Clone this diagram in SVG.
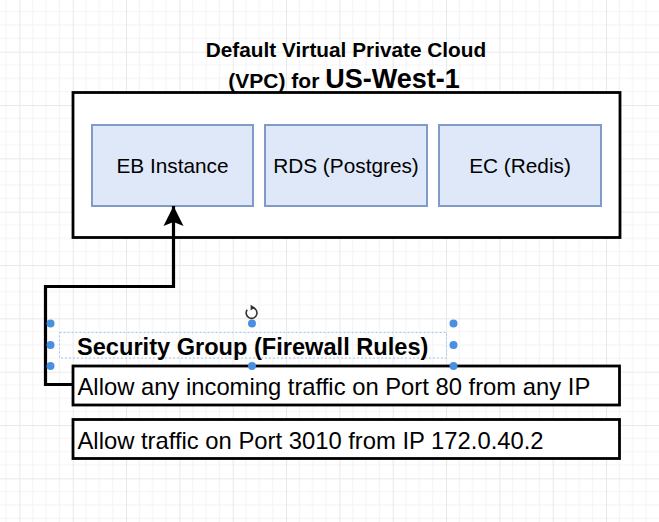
<svg xmlns="http://www.w3.org/2000/svg" width="659" height="522" viewBox="0 0 659 522">
  <defs>
    <pattern id="grid" patternUnits="userSpaceOnUse" x="19.33" y="-1.67" width="53.333" height="53.333">
      <rect x="0" y="0" width="53.333" height="53.333" fill="#ffffff"/>
      <path d="M13.333,0V53.333M26.667,0V53.333M40,0V53.333M0,13.333H53.333M0,26.667H53.333M0,40H53.333" stroke="#f4f4f4" stroke-width="1" fill="none"/>
      <path d="M0.5,0V53.333M0,0.5H53.333" stroke="#e9e9e9" stroke-width="1" fill="none"/>
    </pattern>
    <marker id="arrow" markerUnits="userSpaceOnUse" markerWidth="22" markerHeight="22" viewBox="0 0 22 22" refX="20" refY="11" orient="auto">
      <path d="M0,1 L20,11 L0,21 L4,11 Z" fill="#000"/>
    </marker>
    <style>
      .lbl { font-family: "Liberation Sans", Arial, Helvetica, sans-serif; fill: #000; }
      .bold { font-weight: bold; }
      .svc { fill: #dfe8f8; stroke: #7f9bc6; stroke-width: 2; }
      .frame { fill: #ffffff; stroke: #000; stroke-width: 2.8; }
      .handle { fill: #4a90e2; }
    </style>
  </defs>

  <rect x="0" y="0" width="659" height="522" fill="url(#grid)"/>

  <g id="title">
    <text class="lbl bold" x="346" y="56.5" font-size="20.8" text-anchor="middle">Default Virtual Private Cloud</text>
    <text class="lbl bold" x="344" y="88" text-anchor="middle"><tspan font-size="21">(VPC) for </tspan><tspan font-size="27">US-West-1</tspan></text>
  </g>

  <g id="vpc">
    <rect class="frame" x="73" y="92.5" width="547" height="145"/>
  </g>

  <g id="eb-instance">
    <rect class="svc" x="92" y="125" width="161" height="81"/>
    <text class="lbl" x="172.5" y="172.5" font-size="20.8" text-anchor="middle">EB Instance</text>
  </g>
  <g id="rds">
    <rect class="svc" x="265" y="125" width="162" height="81"/>
    <text class="lbl" x="346" y="172.5" font-size="20.8" text-anchor="middle">RDS (Postgres)</text>
  </g>
  <g id="ec">
    <rect class="svc" x="439" y="125" width="162" height="81"/>
    <text class="lbl" x="520" y="172.5" font-size="20.8" text-anchor="middle">EC (Redis)</text>
  </g>

  <g id="connectors">
    <path d="M73,384.5 H45.5 V286.5 H173.5 V206" fill="none" stroke="#000" stroke-width="3.2" stroke-linejoin="miter" marker-end="url(#arrow)"/>
  </g>

  <g id="security-group">
    <rect x="59.5" y="332.5" width="387" height="25.5" fill="none" stroke="#9ccaf2" stroke-width="1" stroke-dasharray="2 2"/>
    <text class="lbl bold" x="77" y="354.5" font-size="23.6">Security Group (Firewall Rules)</text>
  </g>

  <g id="rule-port-80">
    <rect class="frame" x="73" y="366" width="546.5" height="39"/>
    <text class="lbl" x="77.5" y="395" font-size="23.8">Allow any incoming traffic on Port 80 from any IP</text>
  </g>

  <g id="rule-port-3010">
    <rect class="frame" x="73" y="419.5" width="546.5" height="39"/>
    <text class="lbl" x="77.5" y="448.5" font-size="23.8">Allow traffic on Port 3010 from IP 172.0.40.2</text>
  </g>

  <g id="selection-handles">
    <circle class="handle" cx="50.5" cy="323.5" r="4"/>
    <circle class="handle" cx="252" cy="323.5" r="4"/>
    <circle class="handle" cx="453.5" cy="323.5" r="4"/>
    <circle class="handle" cx="50.5" cy="345" r="4"/>
    <circle class="handle" cx="453.5" cy="345" r="4"/>
    <circle class="handle" cx="50.5" cy="366" r="4"/>
    <circle class="handle" cx="252" cy="366" r="4"/>
    <circle class="handle" cx="453.5" cy="366" r="4"/>
    <path d="M247.2,309.8 A5.4,5.4 0 1 0 252,307.6" fill="none" stroke="#333" stroke-width="1.6"/>
    <path d="M250.6,304.8 L255,307.6 L250.6,310.4 Z" fill="#333"/>
  </g>
</svg>
